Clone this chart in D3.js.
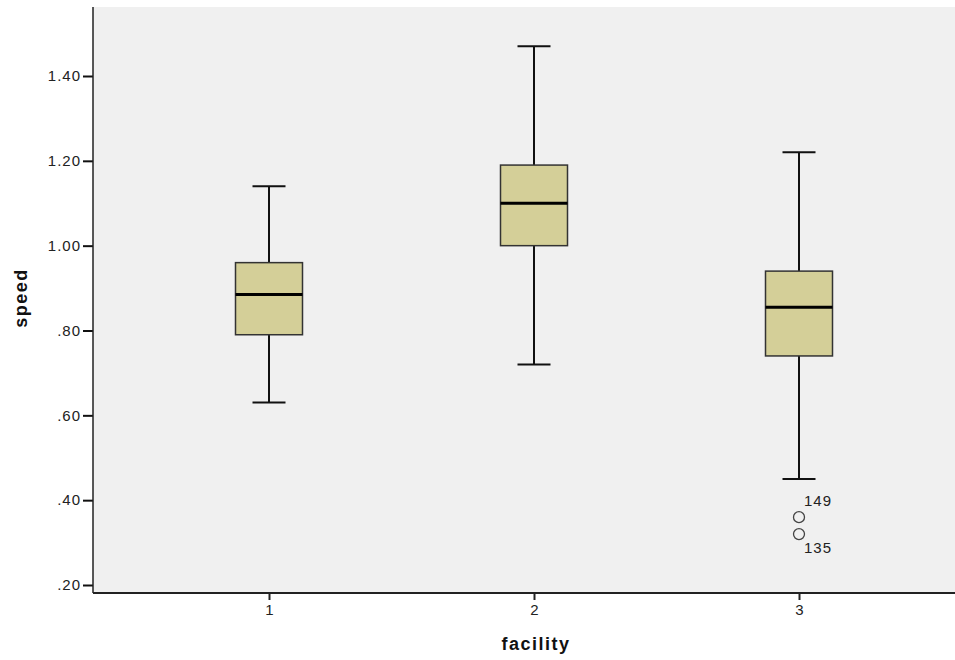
<!DOCTYPE html>
<html>
<head>
<meta charset="utf-8">
<script src="https://cdn.jsdelivr.net/npm/d3@7"></script>
<style>
  body { margin: 0; background: #fff; }
  text { font-family: "Liberation Sans", Arial, sans-serif; }
</style>
</head>
<body>
<div id="chart"></div>
<script>
// box plot summary per facility
const facilities = ['1', '2', '3'];
const whiskerLow = [0.63, 0.72, 0.45];
const q1 = [0.79, 1.00, 0.74];
const medians = [0.885, 1.10, 0.855];
const q3 = [0.96, 1.19, 0.94];
const whiskerHigh = [1.14, 1.47, 1.22];

// outliers (facility, value, case id)
const outlierFacility = ['3', '3'];
const outlierValues = [0.36, 0.32];
const outlierIds = ['149', '135'];

const yTicks = [0.20, 0.40, 0.60, 0.80, 1.00, 1.20, 1.40];

const width = 955;
const height = 660;

const svg = d3.select('#chart')
    .append('svg')
    .attr('width', width)
    .attr('height', height);

const plotLeft = 93, plotTop = 7, plotBottom = 593, plotRight = 955;

const y = d3.scaleLinear()
    .domain([0.20, 1.40])
    .range([585, 76]);

const x = d3.scalePoint()
    .domain(facilities)
    .range([269, 799]);

// plot background
svg.append('rect')
    .attr('x', plotLeft)
    .attr('y', plotTop)
    .attr('width', plotRight - plotLeft)
    .attr('height', plotBottom - plotTop)
    .attr('fill', '#f0f0f0');

const boxW = 67, capW = 33;

const boxes = facilities.map((f, i) => ({
    f: f, lo: whiskerLow[i], q1: q1[i], med: medians[i], q3: q3[i], hi: whiskerHigh[i]
}));

const g = svg.selectAll('.box')
    .data(boxes)
    .enter()
    .append('g')
    .attr('class', 'box')
    .attr('transform', d => `translate(${x(d.f)},0)`);

// whiskers
g.append('line')
    .attr('x1', 0).attr('x2', 0)
    .attr('y1', d => y(d.hi)).attr('y2', d => y(d.q3))
    .attr('stroke', '#111').attr('stroke-width', 2);
g.append('line')
    .attr('x1', 0).attr('x2', 0)
    .attr('y1', d => y(d.q1)).attr('y2', d => y(d.lo))
    .attr('stroke', '#111').attr('stroke-width', 2);
g.append('line')
    .attr('x1', -capW / 2).attr('x2', capW / 2)
    .attr('y1', d => y(d.hi)).attr('y2', d => y(d.hi))
    .attr('stroke', '#111').attr('stroke-width', 2);
g.append('line')
    .attr('x1', -capW / 2).attr('x2', capW / 2)
    .attr('y1', d => y(d.lo)).attr('y2', d => y(d.lo))
    .attr('stroke', '#111').attr('stroke-width', 2);

// box
g.append('rect')
    .attr('x', -boxW / 2)
    .attr('width', boxW)
    .attr('y', d => y(d.q3))
    .attr('height', d => y(d.q1) - y(d.q3))
    .attr('fill', '#d4cf98')
    .attr('stroke', '#333')
    .attr('stroke-width', 1.5);

// median
g.append('line')
    .attr('x1', -boxW / 2).attr('x2', boxW / 2)
    .attr('y1', d => y(d.med)).attr('y2', d => y(d.med))
    .attr('stroke', '#000').attr('stroke-width', 3);

// outliers
outlierValues.forEach((v, i) => {
    const cx = x(outlierFacility[i]);
    svg.append('circle')
        .attr('cx', cx)
        .attr('cy', y(v))
        .attr('r', 5.5)
        .attr('fill', 'none')
        .attr('stroke', '#444')
        .attr('stroke-width', 1.3);
    svg.append('text')
        .attr('x', cx + 5)
        .attr('y', y(v) + (i === 0 ? -11 : 19))
        .attr('font-size', 15)
        .attr('letter-spacing', 1)
        .attr('fill', '#222')
        .text(outlierIds[i]);
});

// y axis
const yAxis = d3.axisLeft(y)
    .tickValues(yTicks)
    .tickSize(10)
    .tickPadding(2)
    .tickFormat(d => d3.format('.2f')(d).replace(/^0/, ''));

const ya = svg.append('g')
    .attr('transform', `translate(${plotLeft},0)`)
    .call(yAxis);
ya.select('.domain').remove();
ya.selectAll('.tick line').attr('stroke', '#111').attr('stroke-width', 2);
ya.selectAll('.tick text').attr('font-size', 15).attr('fill', '#222')
    .attr('letter-spacing', 1)
    .style('font-family', '"Liberation Sans", Arial, sans-serif');

svg.append('line')
    .attr('x1', plotLeft).attr('x2', plotLeft)
    .attr('y1', plotTop).attr('y2', plotBottom)
    .attr('stroke', '#222').attr('stroke-width', 1.5);

// x axis
const xAxis = d3.axisBottom(x)
    .tickSize(7)
    .tickPadding(4);

const xa = svg.append('g')
    .attr('transform', `translate(0,${plotBottom})`)
    .call(xAxis);
xa.select('.domain').remove();
xa.selectAll('.tick line').attr('stroke', '#222').attr('stroke-width', 2);
xa.selectAll('.tick text').attr('font-size', 15).attr('fill', '#222')
    .style('font-family', '"Liberation Sans", Arial, sans-serif');

svg.append('line')
    .attr('x1', plotLeft).attr('x2', plotRight)
    .attr('y1', plotBottom).attr('y2', plotBottom)
    .attr('stroke', '#222').attr('stroke-width', 2);

// axis titles
svg.append('text')
    .attr('x', 536)
    .attr('y', 650)
    .attr('text-anchor', 'middle')
    .attr('font-size', 18)
    .attr('letter-spacing', 1.5)
    .attr('font-weight', 'bold')
    .attr('fill', '#111')
    .text('facility');

svg.append('text')
    .attr('transform', 'translate(27,298) rotate(-90)')
    .attr('text-anchor', 'middle')
    .attr('font-size', 18)
    .attr('letter-spacing', 1.5)
    .attr('font-weight', 'bold')
    .attr('fill', '#111')
    .text('speed');
</script>
</body>
</html>
